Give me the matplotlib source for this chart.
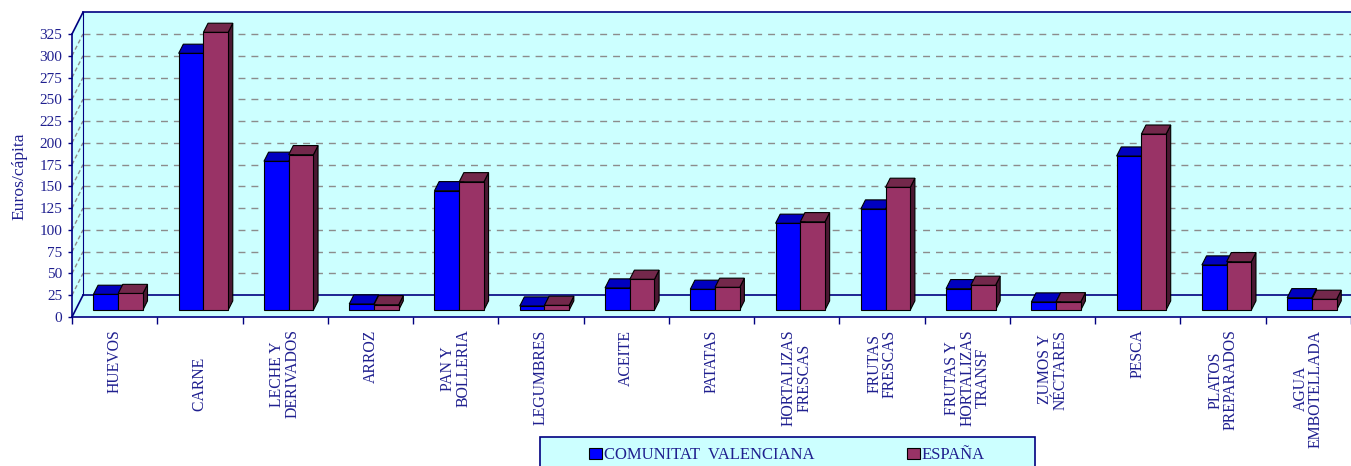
import matplotlib.pyplot as plt
import numpy as np
from matplotlib.patches import Polygon, Rectangle, Patch

plt.rcParams['font.family'] = ['Liberation Serif', 'DejaVu Serif']
plt.rcParams['lines.scale_dashes'] = False

# data (euros per capita)
categories = ['HUEVOS', 'CARNE       ', 'LECHE Y\nDERIVADOS', 'ARROZ', 'PAN Y\nBOLLERIA',
              'LEGUMBRES', 'ACEITE', 'PATATAS', 'HORTALIZAS\nFRESCAS', 'FRUTAS\nFRESCAS',
              'FRUTAS Y\nHORTALIZAS\nTRANSF', 'ZUMOS Y\nNÉCTARES', 'PESCA',
              'PLATOS\nPREPARADOS', 'AGUA\nEMBOTELLADA']
valencia = [18.0, 294.8, 170.8, 6.9, 137.0, 4.6, 25.3, 23.8, 99.6, 116.0, 24.5, 9.2, 176.8, 51.7, 14.1]
espana = [19.0, 318.9, 178.4, 6.1, 147.3, 5.4, 35.3, 26.1, 101.4, 140.9, 28.4, 9.5, 202.0, 55.5, 12.3]
series_names = ['COMUNITAT  VALENCIANA', 'ESPAÑA']
yticks = list(range(0, 326, 25))

navy = '#000080'
text_col = '#1f1f8f'
wall = '#ccffff'
grid_col = '#8c8c8c'

# colours: front, top, side
blue = ('#0000ff', '#0000c0', '#000080')
pink = ('#993366', '#73284b', '#4a1832')

fig = plt.figure(figsize=(13.51, 4.66), dpi=100)
ax = fig.add_axes([72 / 1351, 149 / 466, 1279 / 1351, 283 / 466])
ax.set_xlim(0, 15)
ax.set_ylim(0, 325)
ax.patch.set_visible(False)

n = len(categories)
DX, DY = 0.129, 25  # full depth of the 3d box, in data units
xr = n + 1

# walls and floor
ax.add_patch(Polygon([(DX, DY), (xr, DY), (xr, 325 + DY), (DX, 325 + DY)],
                     fc=wall, ec='none', zorder=0, clip_on=False))
ax.add_patch(Polygon([(0, 0), (0, 325), (DX, 325 + DY), (DX, DY)],
                     fc=wall, ec='none', zorder=0, clip_on=False))
ax.add_patch(Polygon([(0, 0), (xr, 0), (xr, DY), (DX, DY)],
                     fc=wall, ec='none', zorder=0, clip_on=False))

# gridlines on back wall and side wall
for v in yticks[1:-1]:
    ax.plot([DX, xr], [v + DY, v + DY], color=grid_col, lw=1, ls=(0, (5, 4.3)),
            zorder=1, clip_on=False)
    ax.plot([0, DX], [v, v + DY], color=grid_col, lw=1, ls=(0, (3, 2)), zorder=1, clip_on=False)

# box edges
edge_kw = dict(color=navy, lw=1.2, zorder=2, clip_on=False)
ax.plot([DX, xr], [325 + DY, 325 + DY], **edge_kw)
ax.plot([DX, DX], [DY, 325 + DY], color=navy, lw=0.8, zorder=2, clip_on=False)
ax.plot([0, DX], [325, 325 + DY], **edge_kw)
ax.plot([0, DX], [0, DY], **edge_kw)
ax.plot([DX, xr], [DY, DY], **edge_kw)

# 3d bars
f0, fb = 0.32, 0.42
w = 0.29
x = np.arange(n)
for vals, off, cols, z in [(valencia, 0.21, blue, 3), (espana, 0.5, pink, 4)]:
    left = x + off + f0 * DX
    bottom = f0 * DY
    bx, by = fb * DX, fb * DY
    for l, v in zip(left, vals):
        top = bottom + v
        ax.add_patch(Polygon([(l + w, bottom), (l + w, top), (l + w + bx, top + by),
                              (l + w + bx, bottom + by)],
                             fc=cols[2], ec='black', lw=0.8, zorder=z, clip_on=False))
        ax.add_patch(Polygon([(l, top), (l + w, top), (l + w + bx, top + by), (l + bx, top + by)],
                             fc=cols[1], ec='black', lw=0.8, zorder=z, clip_on=False))
    ax.bar(left, vals, width=w, bottom=bottom, align='edge', color=cols[0],
           edgecolor='black', lw=0.8, zorder=z + 0.5, clip_on=False)

# axes
for s in ['top', 'right']:
    ax.spines[s].set_visible(False)
for s in ['left', 'bottom']:
    ax.spines[s].set_color(navy)
    ax.spines[s].set_linewidth(1.2)
    ax.spines[s].set_zorder(6)

ax.set_yticks(yticks)
ax.tick_params(axis='y', direction='out', length=3, width=1, color=navy, pad=4,
               labelsize=11, labelcolor=text_col)
ax.set_xticks(np.arange(n + 1))
ax.set_xticklabels([])
ax.set_xticks(x + 0.5, minor=True)
ax.set_xticklabels(categories, minor=True, rotation=90, va='top', ha='center',
                   multialignment='center', fontsize=11.3, color=text_col, linespacing=0.95)
ax.tick_params(axis='x', which='major', direction='out', length=5, width=1, color=navy)
ax.tick_params(axis='x', which='minor', length=0, pad=9)

fig.text(19 / 1351, 1 - 176 / 466, 'Euros/cápita', rotation=90, ha='center', va='center',
         fontsize=12.6, color=text_col)

# legend box
fig.patches.append(Rectangle((540 / 1351, -0.05), (1035 - 540) / 1351, 0.05 + 1 - 437 / 466,
                             transform=fig.transFigure, fc=wall, ec=navy, lw=1.2, zorder=0))
handles = [Patch(fc=blue[0], ec='black', lw=0.8), Patch(fc=pink[0], ec='black', lw=0.8)]
fig.legend(handles, series_names, loc='center left', bbox_to_anchor=(589 / 1351, 1 - 455 / 466),
           ncol=2, frameon=False, handlelength=0.75, handleheight=0.65, handletextpad=0.12,
           columnspacing=5.6, borderpad=0, borderaxespad=0, fontsize=12, labelcolor=text_col)

fig.savefig('out.png', dpi=100)
